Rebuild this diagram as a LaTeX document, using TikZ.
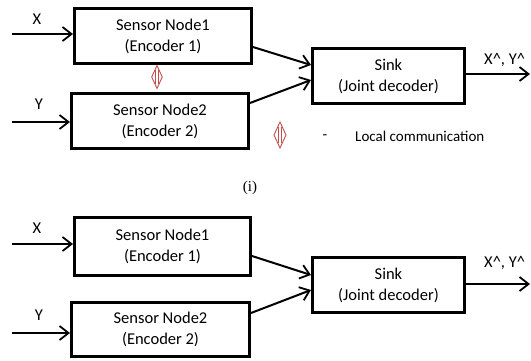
\documentclass[tikz,border=0pt]{standalone}
\usepackage{fontspec}
\setmainfont{Carlito}
\newfontfamily\capfont{Liberation Serif}
\usetikzlibrary{arrows.meta}

\definecolor{commred}{HTML}{C0504D}

\tikzset{
	box/.style={draw, line width=3pt, align=center, inner sep=0pt,
		font=\fontsize{16.5}{21}\selectfont},
	conn/.style={line width=2pt, -{Straight Barb[length=9pt,width=14pt,line width=1.8pt]}},
	lbl/.style={font=\fontsize{16.5}{20}\selectfont, inner sep=0pt},
	localcomm/.pic={
		\draw[commred, line width=0.9pt, line join=miter]
			(0,-13) -- (6,0) -- (0,13) -- (-6,0) -- cycle;
		\draw[commred, line width=0.9pt]
			(-1.5,-8) -- (-1.5,8) (1.5,-8) -- (1.5,8);
	}
}

\begin{document}
\begin{tikzpicture}[x=1pt, y=-1pt]

	\useasboundingbox (0,0) rectangle (531,360);

	% ---- (i) local communication

	\node[box, minimum width=177, minimum height=55] (enc1a) at (163,36) {Sensor Node1\\(Encoder 1)};
	\node[box, minimum width=177, minimum height=55] (enc2a) at (160,121) {Sensor Node2\\(Encoder 2)};
	\node[box, minimum width=152, minimum height=55] (sinka) at (388.5,76) {Sink\\(Joint decoder)};

	\coordinate (xina) at (12,34);
	\coordinate (yina) at (12,122);
	\coordinate (outa) at (530,74);

	\draw[conn] (xina) -- (xina -| enc1a.west);
	\draw[conn] (yina) -- (yina -| enc2a.west);
	\draw[conn] ([yshift=-11pt]enc1a.east) -- ([yshift=11pt]sinka.west);
	\draw[conn] ([yshift=18pt]enc2a.east) -- ([yshift=-4pt]sinka.west);
	\draw[conn] (outa -| sinka.east) -- (outa);

	\node[lbl] (xa) at (37,19) {X};
	\node[lbl] (ya) at (39,104) {Y};
	\node[lbl, anchor=west] (outlbla) at (484,60) {X\textasciicircum, Y\textasciicircum};

	\pic[scale=0.88] at (157,77) {localcomm};

	% ---- legend

	\pic at (280,135) {localcomm};
	\node[inner sep=0pt, font=\fontsize{15}{18}\selectfont] (dash) at (325,137) {-};
	\node[inner sep=0pt, anchor=west, font=\fontsize{15}{18}\selectfont] (legend) at (355,136) {Local communication};

	\node[inner sep=0pt, font=\capfont\fontsize{15}{18}\selectfont] (capi) at (250,188) {(i)};

	% ---- (ii) no communication

	\node[box, minimum width=176, minimum height=58] (enc1b) at (162.5,246.5) {Sensor Node1\\(Encoder 1)};
	\node[box, minimum width=178, minimum height=54] (enc2b) at (160.5,329.5) {Sensor Node2\\(Encoder 2)};
	\node[box, minimum width=152, minimum height=55] (sinkb) at (388.5,285) {Sink\\(Joint decoder)};

	\coordinate (xinb) at (12,244);
	\coordinate (yinb) at (12,333);
	\coordinate (outb) at (530,284);

	\draw[conn] (xinb) -- (xinb -| enc1b.west);
	\draw[conn] (yinb) -- (yinb -| enc2b.west);
	\draw[conn] ([yshift=-9.5pt]enc1b.east) -- ([yshift=10pt]sinkb.west);
	\draw[conn] ([yshift=16.5pt]enc2b.east) -- ([yshift=-5pt]sinkb.west);
	\draw[conn] (outb -| sinkb.east) -- (outb);

	\node[lbl] (xb) at (37,228) {X};
	\node[lbl] (yb) at (39,315) {Y};
	\node[lbl, anchor=west] (outlblb) at (484,263) {X\textasciicircum, Y\textasciicircum};

\end{tikzpicture}
\end{document}
